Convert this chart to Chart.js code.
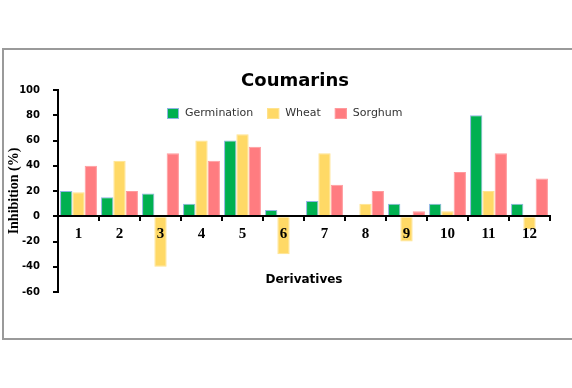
<!DOCTYPE html>
<html>
<head>
<meta charset="utf-8">
<script src="https://cdn.jsdelivr.net/npm/chart.js@4"></script>
<style>
  body { margin: 0; background: #fff; }
  #frame { position: absolute; left: 2px; top: 48px; width: 620px; height: 288px; border: 2px solid #9a9a9a; }
  #myChart { position: absolute; left: 0; top: 0; }
</style>
</head>
<body>
<div id="frame"></div>
<canvas id="myChart" width="572" height="388"></canvas>
<script>
var derivatives = ['1', '2', '3', '4', '5', '6', '7', '8', '9', '10', '11', '12'];
var germination = [20, 15, 18, 10, 60, 5, 12, 0, 10, 10, 80, 10];
var wheat = [19, 44, -40, 60, 65, -30, 50, 10, -20, 4, 20, -10];
var sorghum = [40, 20, 50, 44, 55, 0, 25, 20, 4, 35, 50, 30];
var yTicks = [100, 80, 60, 40, 20, 0, -20, -40, -60];

// title, legend and x axis title sit inside the plot, so draw them by hand
const extraText = {
    id: 'extraText',
    afterDraw(chart) {
        const c = chart.ctx;
        c.save();
        c.fillStyle = '#000';
        c.textAlign = 'center';
        c.textBaseline = 'middle';
        c.font = 'bold 18px "DejaVu Sans"';
        c.fillText('Coumarins', 295, 81);
        c.font = 'bold 12px "DejaVu Sans"';
        c.fillText('Derivatives', 304, 280);

        c.font = '11px "DejaVu Sans"';
        c.textAlign = 'left';
        let x = 167;
        chart.data.datasets.forEach(function (ds) {
            c.fillStyle = ds.backgroundColor;
            c.fillRect(x, 108, 12, 11);
            c.strokeStyle = ds.borderColor;
            c.lineWidth = 1;
            c.strokeRect(x + 0.5, 108.5, 11, 10);
            c.fillStyle = '#333';
            c.fillText(ds.label, x + 18, 113);
            x += 18 + c.measureText(ds.label).width + 14;
        });
        c.restore();
    }
};

const ctx = document.getElementById('myChart').getContext('2d');
const myChart = new Chart(ctx, {
    type: 'bar',
    data: {
        labels: derivatives,
        datasets: [{
            label: 'Germination',
            data: germination,
            backgroundColor: '#00B050',
            borderColor: '#8EB4E3',
            borderWidth: 1
        }, {
            label: 'Wheat',
            data: wheat,
            backgroundColor: '#FFD966',
            borderColor: '#FFE38F',
            borderWidth: 1
        }, {
            label: 'Sorghum',
            data: sorghum,
            backgroundColor: '#FF7C80',
            borderColor: '#FF9A9D',
            borderWidth: 1
        }]
    },
    options: {
        responsive: false,
        animation: false,
        layout: { padding: { left: 0, right: 22, top: 90, bottom: 96 } },
        datasets: { bar: { categoryPercentage: 0.9, barPercentage: 1 } },
        plugins: {
            legend: { display: false },
            tooltip: { enabled: false }
        },
        scales: {
            x: {
                position: { y: 0 },
                offset: true,
                grid: { z: 1, offset: true, drawOnChartArea: false, tickLength: 4, color: '#000', lineWidth: 2 },
                border: { z: 1, color: '#000', width: 2 },
                ticks: {
                    z: 1,
                    autoSkip: false,
                    maxRotation: 0,
                    padding: 5,
                    color: '#000',
                    font: { family: '"Liberation Serif"', size: 15, weight: 'bold' }
                }
            },
            y: {
                min: -60,
                max: 100,
                afterFit: function (scale) { scale.width = 58; },
                afterBuildTicks: function (scale) {
                    scale.ticks = yTicks.map(function (v) { return { value: v }; });
                },
                grid: { drawOnChartArea: false, tickLength: 5, color: '#000', lineWidth: 2 },
                border: { color: '#000', width: 2 },
                ticks: {
                    padding: 13,
                    color: '#000',
                    font: { family: '"DejaVu Sans"', size: 10, weight: 'bold' }
                },
                title: {
                    display: true,
                    text: 'Inhibition (%)',
                    color: '#000',
                    padding: { top: 6, bottom: 0 },
                    font: { family: '"Liberation Serif"', size: 14, weight: 'bold' }
                }
            }
        }
    },
    plugins: [extraText]
});
</script>
</body>
</html>
